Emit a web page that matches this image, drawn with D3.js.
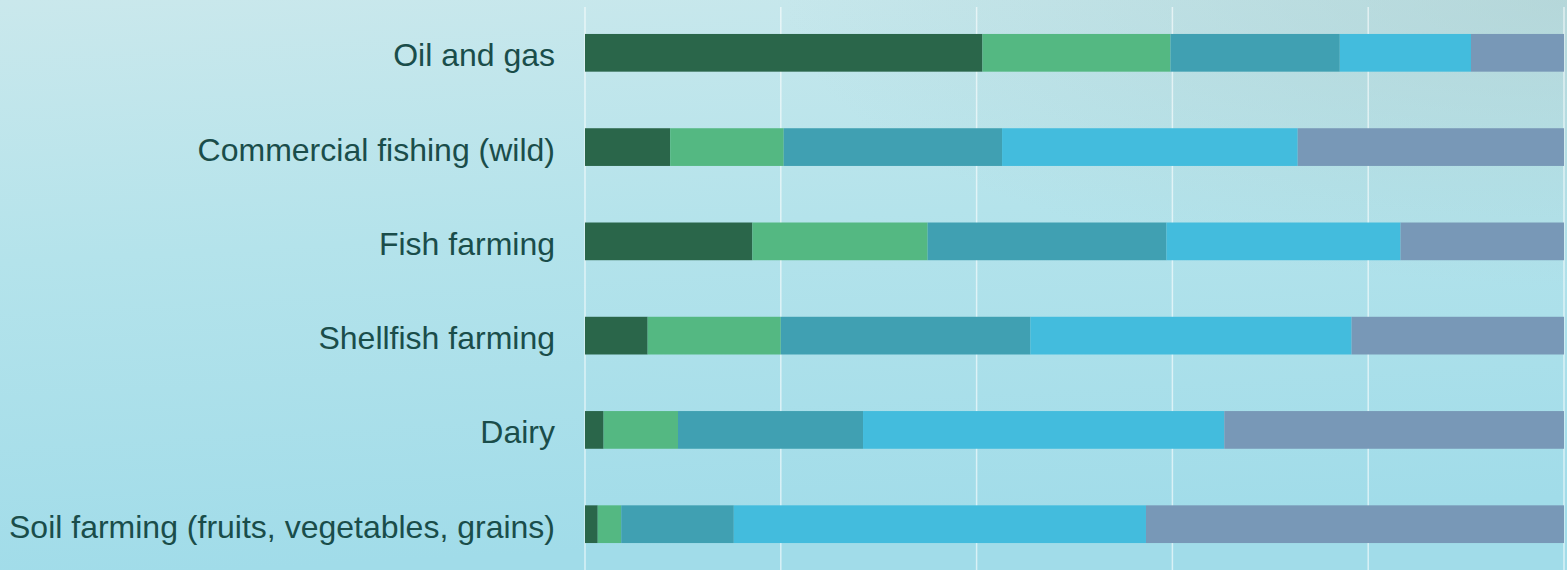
<!DOCTYPE html>
<html>
<head>
<meta charset="utf-8">
<script src="https://cdn.jsdelivr.net/npm/d3@7"></script>
<style>
    body { margin: 0; overflow: hidden; }
    .label { font-family: 'Liberation Sans', Arial, sans-serif; font-size: 32px; fill: #1a4d4a; }
    .grid line { stroke: rgba(255, 255, 255, 0.6); stroke-width: 1.5; }
    .grid path { display: none; }
</style>
</head>
<body>
<div id="vis"></div>
<script>
// categories, top to bottom
var categories = ['Oil and gas', 'Commercial fishing (wild)', 'Fish farming',
    'Shellfish farming', 'Dairy', 'Soil farming (fruits, vegetables, grains)'];

// share (%) of each group, one array per segment, left to right
var seriesNames = ['Group 1', 'Group 2', 'Group 3', 'Group 4', 'Group 5'];
var group1 = [40.6, 8.7, 17.1, 6.4, 1.9, 1.3];
var group2 = [19.2, 11.6, 17.9, 13.6, 7.6, 2.4];
var group3 = [17.3, 22.3, 24.4, 25.5, 18.9, 11.5];
var group4 = [13.4, 30.2, 23.9, 32.8, 36.9, 42.1];
var group5 = [9.5, 27.2, 16.7, 21.7, 34.7, 42.7];

var gridTicks = [0, 20, 40, 60, 80, 100];
var colors = ['#2a664a', '#54b882', '#40a0b2', '#43bcdd', '#7898b7'];

var width = 1567;
var height = 570;

var svg = d3.select('#vis')
    .append('svg')
    .attr('width', width)
    .attr('height', height);

// background wash
var defs = svg.append('defs');
var bg = defs.append('linearGradient')
    .attr('id', 'bg')
    .attr('x1', 0).attr('y1', 0).attr('x2', 0.15).attr('y2', 1);
bg.append('stop').attr('offset', '0%').attr('stop-color', '#cae8ec');
bg.append('stop').attr('offset', '45%').attr('stop-color', '#b4e3eb');
bg.append('stop').attr('offset', '100%').attr('stop-color', '#a1dce9');

var corner = defs.append('radialGradient')
    .attr('id', 'corner')
    .attr('cx', 1).attr('cy', 0).attr('r', 0.5);
corner.append('stop').attr('offset', '0%').attr('stop-color', '#a8c8c8').attr('stop-opacity', 0.5);
corner.append('stop').attr('offset', '100%').attr('stop-color', '#a8c8c8').attr('stop-opacity', 0);

svg.append('rect').attr('width', width).attr('height', height).attr('fill', 'url(#bg)');
svg.append('rect').attr('width', width).attr('height', height).attr('fill', 'url(#corner)');

// rows of the table for the stack
var rows = categories.map(function(c, i) {
    return {
        category: c,
        'Group 1': group1[i],
        'Group 2': group2[i],
        'Group 3': group3[i],
        'Group 4': group4[i],
        'Group 5': group5[i]
    };
});

var xScale = d3.scaleLinear().domain([0, 100]).range([585, 1564]);
var yScale = d3.scaleBand()
    .domain(categories)
    .range([7, 570])
    .paddingInner(0.6)
    .paddingOuter(0.286);
var colorScale = d3.scaleOrdinal().domain(seriesNames).range(colors);

// vertical gridlines
var xAxis = d3.axisBottom(xScale)
    .tickValues(gridTicks)
    .tickSize(height - 7)
    .tickFormat('');
svg.append('g')
    .attr('class', 'grid')
    .attr('transform', 'translate(-0.5,7)')
    .call(xAxis);

var stacked = d3.stack().keys(seriesNames)(rows);

var layers = svg.append('g').selectAll('g')
    .data(stacked)
    .enter().append('g')
    .style('fill', d=>colorScale(d.key));

layers.selectAll('rect')
    .data(d=>d)
    .enter().append('rect')
    .attr('x', d=>xScale(d[0]))
    .attr('y', d=>yScale(d.data.category))
    .attr('width', d=>xScale(d[1]) - xScale(d[0]))
    .attr('height', yScale.bandwidth());

// category labels
svg.append('g').selectAll('text')
    .data(categories)
    .enter().append('text')
    .attr('class', 'label')
    .attr('x', 555)
    .attr('y', d=>yScale(d) + yScale.bandwidth() / 2)
    .attr('dy', '0.42em')
    .style('text-anchor', 'end')
    .text(d=>d);
</script>
</body>
</html>
